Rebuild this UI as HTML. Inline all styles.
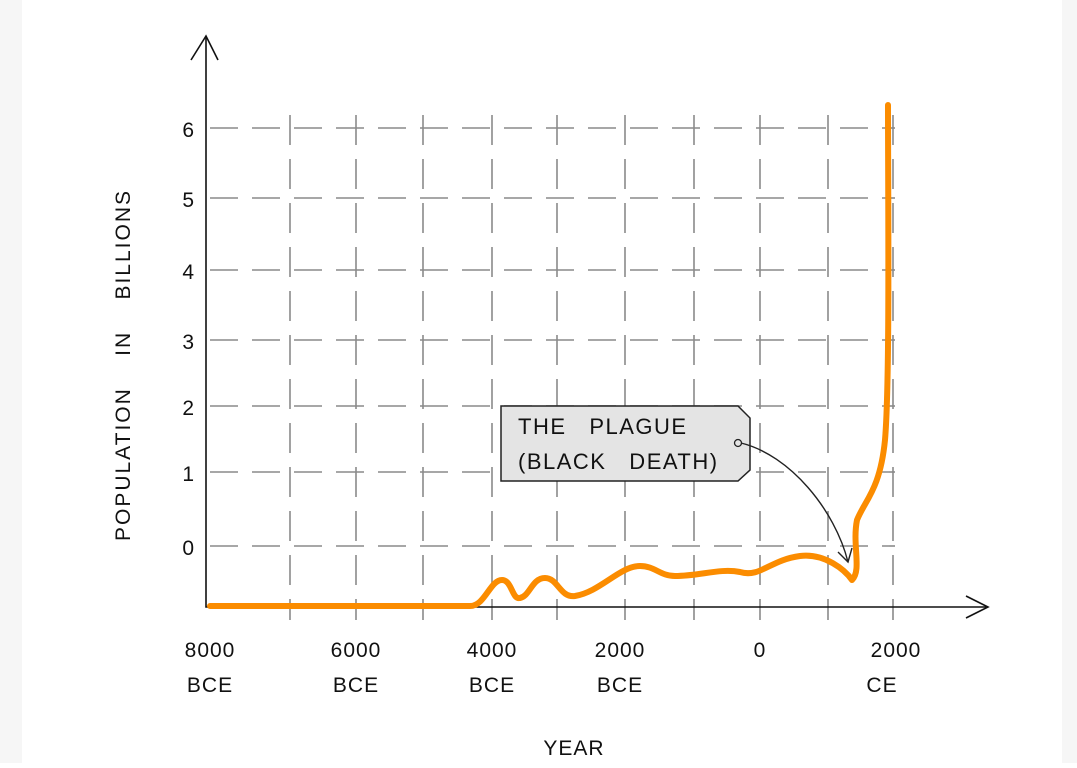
<!DOCTYPE html>
<html><head><meta charset="utf-8"><style>
body{margin:0;background:#fff;}
svg text{font-family:"Liberation Sans",sans-serif;fill:#111;}
</style></head><body>
<svg width="1077" height="763" viewBox="0 0 1077 763">
<rect x="0" y="0" width="22" height="763" fill="#f6f6f6"/>
<rect x="1062" y="0" width="15" height="763" fill="#f6f6f6"/>
<g stroke="#8a8a8a" stroke-width="1.6" stroke-dasharray="28,14" fill="none">
<path d="M210 128H895"/><path d="M210 198H895"/><path d="M210 270H895"/><path d="M210 340H895"/>
<path d="M210 406H895"/><path d="M210 472H895"/><path d="M210 546H895"/>
</g>
<g stroke="#8a8a8a" stroke-width="1.6" stroke-dasharray="30,14" fill="none">
<path d="M290 115V620"/><path d="M356 115V620"/><path d="M423 115V620"/><path d="M492 115V620"/>
<path d="M557 115V620"/><path d="M625 115V620"/><path d="M694 115V620"/><path d="M760 115V620"/>
<path d="M828 115V620"/><path d="M893 115V620"/>
</g>
<g stroke="#111" stroke-width="1.6" fill="none">
<path d="M206 36V607H988"/>
<path d="M191 60L206 36L218 60"/>
<path d="M966 596L988 607L966 618"/>
</g>
<path d="M210 606L470 606C485 606 490 580 502 580C512 580 512 600 520 598C530 596 532 578 545 578C558 578 560 598 575 596C600 592 620 566 640 566C655 566 660 576 675 576C700 576 720 568 740 572C760 578 770 560 800 556C825 553 845 570 852 580C862 570 852 545 857 520C865 500 880 490 885 440C890 380 888 200 888 105" stroke="#fb8c00" stroke-width="6" fill="none" stroke-linecap="round" stroke-linejoin="round"/>
<path d="M501 406H738L750 418V470L738 481H501Z" fill="#e4e4e4" stroke="#222" stroke-width="1.5"/>
<circle cx="738" cy="443" r="3.5" fill="none" stroke="#222" stroke-width="1.3"/>
<path d="M741 443C790 455 835 510 848 562" stroke="#222" stroke-width="1.4" fill="none"/>
<path d="M838 552L848 562L852 548" stroke="#222" stroke-width="1.4" fill="none"/>
<text x="518" y="434" font-size="22" letter-spacing="1.5">THE&#160;&#160;&#160;PLAGUE</text>
<text x="518" y="469" font-size="22" letter-spacing="1.5">(BLACK&#160;&#160;&#160;DEATH)</text>
<g font-size="21" text-anchor="end">
<text x="194" y="137">6</text><text x="194" y="207">5</text><text x="194" y="279">4</text>
<text x="194" y="349">3</text><text x="194" y="415">2</text><text x="194" y="481">1</text><text x="194" y="555">0</text>
</g>
<g font-size="21" text-anchor="middle" letter-spacing="1">
<text x="210" y="657">8000</text><text x="210" y="692">BCE</text>
<text x="356" y="657">6000</text><text x="356" y="692">BCE</text>
<text x="492" y="657">4000</text><text x="492" y="692">BCE</text>
<text x="620" y="657">2000</text><text x="620" y="692">BCE</text>
<text x="760" y="657">0</text>
<text x="896" y="657">2000</text><text x="882" y="692">CE</text>
<text x="574" y="755">YEAR</text>
</g>
<text transform="translate(130,365) rotate(-90)" font-size="21" text-anchor="middle" letter-spacing="2">POPULATION&#160;&#160;&#160;&#160;IN&#160;&#160;&#160;&#160;BILLIONS</text>
</svg>
</body></html>
